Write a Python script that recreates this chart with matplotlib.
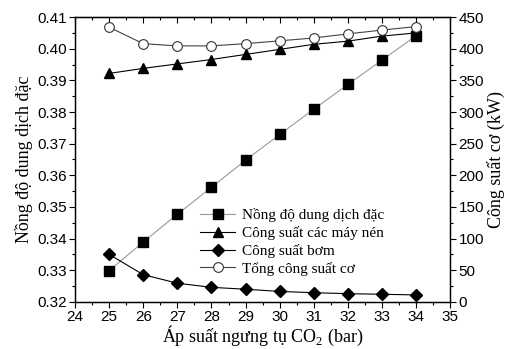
import numpy as np
import matplotlib
matplotlib.use('Agg')
import matplotlib.pyplot as plt
from matplotlib.ticker import MultipleLocator

plt.rcParams['font.family'] = ['Liberation Sans', 'DejaVu Sans']
plt.rcParams['mathtext.fontset'] = 'custom'
plt.rcParams['mathtext.rm'] = 'Liberation Serif'

# condensing pressure of CO2 (bar)
pressure = [25, 26, 27, 28, 29, 30, 31, 32, 33, 34]

# strong solution concentration (left axis)
concentration = [0.3299, 0.3389, 0.3477, 0.3562, 0.3648, 0.3729, 0.3809, 0.3887, 0.3964, 0.4041]

# powers in kW (right axis)
p_compressors = [361, 369, 376, 383, 391, 399, 407, 412, 420, 425]
p_pump = [75, 43, 29.5, 23, 20, 16.5, 14.5, 13, 12, 11]
p_total = [434, 408, 404.5, 404.5, 408, 412.5, 417, 423.5, 429.5, 435]

serif = 'Liberation Serif'

fig = plt.figure(figsize=(5.07, 3.49), dpi=100)
ax = fig.add_axes([0.148, 0.135, 0.740, 0.816])
ax2 = ax.twinx()

l1, = ax.plot(pressure, concentration, '-', color='#9a9a9a', lw=0.8,
              marker='s', ms=6.5, mfc='black', mec='black', label='Nồng độ dung dịch đặc')
l2, = ax2.plot(pressure, p_compressors, '-', color='black', lw=0.8,
               marker='^', ms=7.5, mfc='black', mec='black', label='Công suất các máy nén')
l3, = ax2.plot(pressure, p_pump, '-', color='black', lw=0.8,
               marker='D', ms=6.5, mfc='black', mec='black', label='Công suất bơm')
l4, = ax2.plot(pressure, p_total, '-', color='#444444', lw=0.8,
               marker='o', ms=7, mfc='white', mec='#333333', mew=0.8, label='Tổng công suất cơ')

ax.set_xlim(24, 35)
ax.set_ylim(0.32, 0.41)
ax2.set_ylim(0, 450)

ax.xaxis.set_major_locator(MultipleLocator(1))
ax.xaxis.set_minor_locator(MultipleLocator(0.5))
ax.yaxis.set_major_locator(MultipleLocator(0.01))
ax.yaxis.set_minor_locator(MultipleLocator(0.005))
ax2.yaxis.set_major_locator(MultipleLocator(50))
ax2.yaxis.set_minor_locator(MultipleLocator(25))
ax.yaxis.set_major_formatter(plt.FormatStrFormatter('%.2f'))

ax.tick_params(axis='both', which='major', direction='out', length=4, width=0.8, labelsize=11, pad=2)
ax.tick_params(axis='both', which='minor', direction='out', length=2.5, width=0.8)
ax2.tick_params(axis='y', which='major', direction='out', length=4, width=0.8, labelsize=11, pad=2)
ax2.tick_params(axis='y', which='minor', direction='out', length=2.5, width=0.8)

# top ticks point inward
sec = ax.secondary_xaxis('top')
sec.set_xticks(np.arange(24, 36, 1))
sec.xaxis.set_minor_locator(MultipleLocator(0.5))
sec.tick_params(which='major', direction='in', length=4, width=0.8, labeltop=False)
sec.tick_params(which='minor', direction='in', length=2.5, width=0.8)

for a in (ax, ax2):
    for s in a.spines.values():
        s.set_linewidth(0.9)

ax.set_xlabel('Áp suất ngưng tụ CO$_\\mathregular{2}$ (bar)', family=serif, fontsize=13, labelpad=0)
ax.set_ylabel('Nồng độ dung dịch đặc', family=serif, fontsize=13, labelpad=3)
ax2.set_ylabel('Công suất cơ (kW)', family=serif, fontsize=13, labelpad=2)

leg = ax2.legend(handles=[l1, l2, l3, l4], loc='upper left',
                 bbox_to_anchor=(0.38, 0.425), bbox_transform=fig.transFigure,
                 frameon=False, prop={'family': serif, 'size': 11},
                 handlelength=2.3, handletextpad=0.4, labelspacing=0.25, borderpad=0)

fig.savefig('out.png', dpi=100)
